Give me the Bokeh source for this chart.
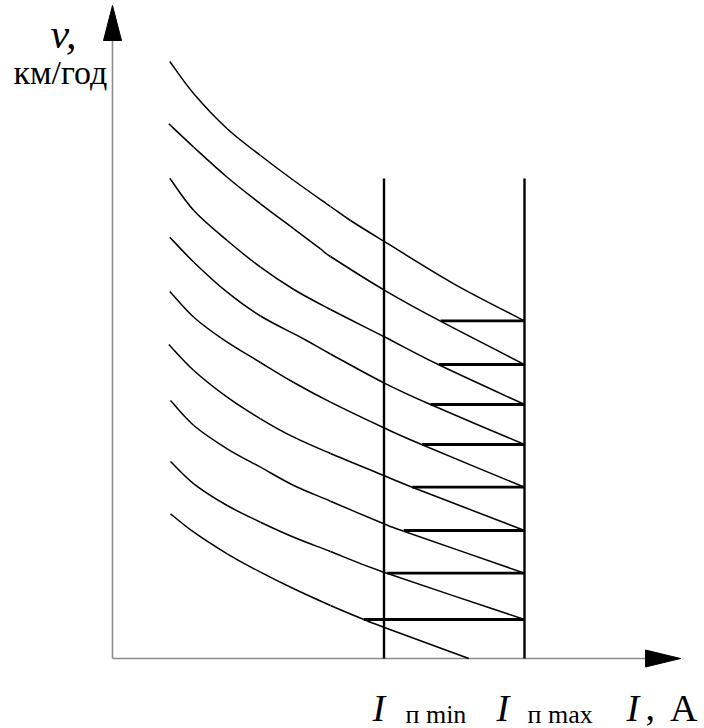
from bokeh.plotting import figure
from bokeh.models import Range1d
from bokeh.core.properties import value
from bokeh.embed import file_html
from bokeh.resources import INLINE

# ---- data (arbitrary units: I along x, v along y; origin at axes crossing) ----
I_MIN = 271.5
I_MAX = 412.0
LIMIT_TOP_V = 480.0

curve1_I = [57.3, 81.3, 114.7, 148, 181.3, 218, 238, 271.3, 341.3, 412]
curve1_v = [597, 564.7, 529.7, 503, 478, 452, 438, 417.3, 374.7, 337.7]

curve2_I = [56.3, 81.3, 114.7, 148, 181.3, 208, 218, 271.3, 328, 412]
curve2_v = [534.7, 511.3, 481.3, 454.7, 429.7, 409.7, 402, 368.7, 337.3, 294]

curve3_I = [57.3, 81.3, 114.7, 148, 181.3, 218, 271.3, 326.3, 412]
curve3_v = [480.3, 448, 418, 391.3, 369, 349, 322, 293.7, 254]

curve4_I = [57.3, 81.3, 114.7, 148, 191.3, 218, 271.3, 318, 412]
curve4_v = [421.3, 396.3, 366.3, 342.5, 319.5, 304.5, 275.7, 254, 214]

curve5_I = [57.3, 81.3, 111.3, 148, 181.3, 218, 271.3, 309.7, 412]
curve5_v = [367, 341.3, 318.7, 296, 276, 256.3, 230.7, 213.7, 171.3]

curve6_I = [56.3, 81.3, 114.7, 148, 181.3, 218, 271.3, 299.7, 412]
curve6_v = [314, 288, 261.3, 239.7, 221.3, 205, 183, 171.3, 128]

curve7_I = [58, 81.3, 114.7, 148, 181.3, 218, 271.3, 291.3, 412]
curve7_v = [258, 233, 209.7, 191.3, 173, 157.3, 134.7, 127.3, 85.3]

curve8_I = [58, 81.3, 114.7, 148, 181.3, 218, 271.3, 412]
curve8_v = [197, 174.7, 153, 136.3, 121.3, 107, 86.3, 39]

curve9_I = [58, 81.3, 114.7, 148, 181.3, 218, 251.3, 271.3, 356.3]
curve9_v = [144.7, 126.3, 104.7, 86.3, 69.7, 53, 39, 31.3, 0]

step_v = [337.7, 294, 254, 214, 171.3, 128, 85.3, 39]
step_I_start = [328, 326.3, 318, 309.7, 299.7, 291.3, 274.7, 251.3]

x_axis_label_italic = "I"
x_axis_label_comma = ","
x_axis_label_unit = "A"
y_axis_label = "v,"
y_axis_units = "км/год"
tick_main = ["I", "I"]
tick_sub = ["п min", "п max"]

# ---- figure ----
W, H = 704, 728
p = figure(width=W, height=H, output_backend="svg", toolbar_location=None,
           x_range=Range1d(-112, 592), y_range=Range1d(-70, 658),
           min_border=0, min_border_left=0, min_border_right=0,
           min_border_top=0, min_border_bottom=0)
p.xaxis.visible = False
p.yaxis.visible = False
p.grid.visible = False
p.outline_line_color = None
p.background_fill_color = "white"
p.border_fill_color = "white"

# axes (grey lines with black arrow heads)
X_TIP, X_HEAD = 568, 533
Y_TIP, Y_HEAD = 653, 618
p.segment(x0=[0, 0], y0=[0, 0], x1=[X_HEAD, 0], y1=[0, Y_HEAD],
          line_color="#8c8c8c", line_width=1.6)
p.patch(x=[X_HEAD, X_TIP, X_HEAD], y=[8.5, 0, -8.5], fill_color="black", line_color="black", line_width=1)
p.patch(x=[-9, 0, 9], y=[Y_HEAD, Y_TIP, Y_HEAD], fill_color="black", line_color="black", line_width=1)

# limits
p.segment(x0=[I_MIN, I_MAX], y0=[0, 0], x1=[I_MIN, I_MAX], y1=[LIMIT_TOP_V, LIMIT_TOP_V],
          line_color="black", line_width=2.4)


# curves: smooth (Catmull-Rom) bezier pieces through the read points
def catmull_rom(xs, ys):
    n = len(xs)
    x0, y0, x1, y1, cx0, cy0, cx1, cy1 = ([] for _ in range(8))
    for i in range(n - 1):
        xa, ya = xs[max(i - 1, 0)], ys[max(i - 1, 0)]
        xb, yb = xs[i], ys[i]
        xc, yc = xs[i + 1], ys[i + 1]
        xd, yd = xs[min(i + 2, n - 1)], ys[min(i + 2, n - 1)]
        x0.append(xb); y0.append(yb); x1.append(xc); y1.append(yc)
        cx0.append(xb + (xc - xa) / 6.0); cy0.append(yb + (yc - ya) / 6.0)
        cx1.append(xc - (xd - xb) / 6.0); cy1.append(yc - (yd - yb) / 6.0)
    return x0, y0, x1, y1, cx0, cy0, cx1, cy1


curves = [(curve1_I, curve1_v), (curve2_I, curve2_v), (curve3_I, curve3_v),
          (curve4_I, curve4_v), (curve5_I, curve5_v), (curve6_I, curve6_v),
          (curve7_I, curve7_v), (curve8_I, curve8_v), (curve9_I, curve9_v)]
bx0, by0, bx1, by1, bcx0, bcy0, bcx1, bcy1 = ([] for _ in range(8))
for cI, cv in curves:
    r = catmull_rom(cI, cv)
    for acc, part in zip((bx0, by0, bx1, by1, bcx0, bcy0, bcx1, bcy1), r):
        acc.extend(part)
p.bezier(x0=bx0, y0=by0, x1=bx1, y1=by1, cx0=bcx0, cy0=bcy0, cx1=bcx1, cy1=bcy1,
         line_color="black", line_width=1.5)

# steps
p.segment(x0=step_I_start, y0=step_v, x1=[I_MAX] * len(step_v), y1=step_v,
          line_color="black", line_width=2.8)

SERIF = value("Liberation Serif")

# y label
p.text(x=[-62], y=[625], text=[y_axis_label], text_font=SERIF, text_font_style="italic",
       text_font_size="42px", text_baseline="alphabetic", text_align="left", text_color="black")
p.text(x=[-99], y=[586], text=[y_axis_units], text_font=SERIF,
       text_font_size="34px", text_baseline="alphabetic", text_align="left", text_color="black")

# tick labels under the limits
p.text(x=[I_MIN - 11.5, I_MAX - 28], y=[-49, -49], text=tick_main, text_font=SERIF,
       text_font_style="italic", text_font_size="38px", text_baseline="alphabetic",
       text_align="left", text_color="black")
p.text(x=[I_MIN + 21.5, I_MAX + 3], y=[-56, -56], text=tick_sub, text_font=SERIF,
       text_font_size="26px", text_baseline="alphabetic", text_align="left", text_color="black")

# x label
p.text(x=[514], y=[-49], text=[x_axis_label_italic], text_font=SERIF, text_font_style="italic",
       text_font_size="38px", text_baseline="alphabetic", text_align="left", text_color="black")
p.text(x=[533], y=[-49], text=[x_axis_label_comma], text_font=SERIF,
       text_font_size="38px", text_baseline="alphabetic", text_align="left", text_color="black")
p.text(x=[585], y=[-49], text=[x_axis_label_unit], text_font=SERIF,
       text_font_size="38px", text_baseline="alphabetic", text_align="right", text_color="black")

open("out.html", "w").write(file_html(p, INLINE))
